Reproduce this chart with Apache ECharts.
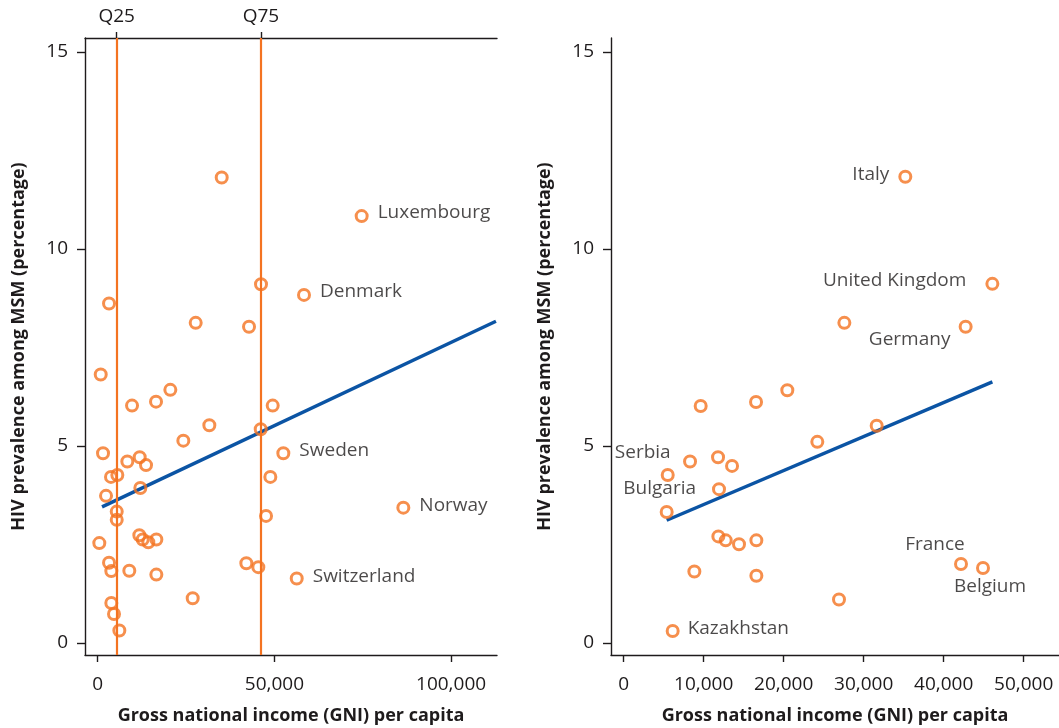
<!DOCTYPE html>
<html>
<head>
<meta charset="utf-8">
<script src="https://cdn.jsdelivr.net/npm/echarts@6/dist/echarts.min.js"></script>
<style>
html,body{margin:0;padding:0;background:#fff;}
#chart{width:1059px;height:728px;}
</style>
</head>
<body>
<div id="chart"></div>
<script>
// ---- Data ----
// Left panel: all countries
const leftGNI = [35090, 74700, 46210, 58380, 3200, 27730, 42820, 850, 20550, 16500, 9710, 49520, 31590, 46130, 24230, 52530, 1500, 8380, 11880, 13670, 3760, 5550, 48850, 12060, 2350, 86490, 5380, 5380, 47630, 11780, 12730, 14320, 16590, 450, 3200, 3850, 8940, 16590, 42060, 45450, 56320, 26880, 3850, 4610, 6120];
const leftHIV = [11.81, 10.83, 9.10, 8.83, 8.61, 8.12, 8.02, 6.81, 6.42, 6.12, 6.02, 6.02, 5.52, 5.42, 5.13, 4.81, 4.81, 4.60, 4.71, 4.51, 4.21, 4.26, 4.21, 3.93, 3.73, 3.43, 3.33, 3.12, 3.22, 2.73, 2.62, 2.55, 2.62, 2.53, 2.03, 1.82, 1.83, 1.73, 2.02, 1.92, 1.63, 1.13, 1.01, 0.73, 0.31];
const leftNames = ['', 'Luxembourg', '', 'Denmark', '', '', '', '', '', '', '', '', '', '', '', 'Sweden', '', '', '', '', '', '', '', '', '', 'Norway', '', '', '', '', '', '', '', '', '', '', '', '', '', '', 'Switzerland', '', '', '', ''];
const leftFitGNI = [1220, 112700];
const leftFitHIV = [3.45, 8.16];
const quartileValues = [5380, 46200];
const quartileLabels = ['Q25', 'Q75'];

// Right panel: interquartile countries
const rightGNI = [35200, 46080, 27580, 42740, 20450, 16540, 9620, 31620, 24200, 11790, 8290, 13540, 5500, 11910, 5370, 11830, 12750, 14410, 16580, 8830, 16580, 26910, 42160, 44910, 6120];
const rightHIV = [11.83, 9.11, 8.12, 8.02, 6.41, 6.11, 6.01, 5.51, 5.10, 4.71, 4.60, 4.49, 4.26, 3.90, 3.32, 2.70, 2.60, 2.50, 2.60, 1.81, 1.70, 1.10, 2.00, 1.90, 0.30];
const rightNames = ['Italy', 'United Kingdom', '', 'Germany', '', '', '', '', '', '', '', '', 'Serbia', '', 'Bulgaria', '', '', '', '', '', '', '', 'France', 'Belgium', 'Kazakhstan'];
const rightFitGNI = [5370, 46080];
const rightFitHIV = [3.11, 6.62];

const leftXTicks = [0, 50000, 100000];
const rightXTicks = [0, 10000, 20000, 30000, 40000, 50000];
const yTicks = [0, 5, 10, 15];
const xTitle = 'Gross national income (GNI) per capita';
const yTitle = 'HIV prevalence among MSM (percentage)';

// ---- Styles ----
const ORANGE = '#F47321';
const BLUE = '#0B54A4';
const INK = '#1E1B1C';
const FONT = '"Open Sans", "Noto Sans", sans-serif';

const labelPlacement = {
  'Luxembourg': {position: 'right', distance: 9, offset: [0, -3]},
  'Denmark': {position: 'right', distance: 9, offset: [0, -3]},
  'Sweden': {position: 'right', distance: 9, offset: [0, -3]},
  'Norway': {position: 'right', distance: 9, offset: [0, -2]},
  'Switzerland': {position: 'right', distance: 9, offset: [0, -2]},
  'Italy': {position: 'left', distance: 9, offset: [0, -2]},
  'United Kingdom': {position: 'left', distance: 19, offset: [0, -3]},
  'Germany': {position: 'inside', offset: [-56, 13]},
  'Serbia': {position: 'inside', offset: [-25, -22]},
  'Bulgaria': {position: 'inside', offset: [-7, -23]},
  'France': {position: 'inside', offset: [-26, -19]},
  'Belgium': {position: 'inside', offset: [7, 19]},
  'Kazakhstan': {position: 'right', distance: 8, offset: [0, -2]}
};

function buildPoints(xs, ys, names) {
  return xs.map((x, i) => {
    const item = {value: [x, ys[i]], name: names[i]};
    if (names[i]) {
      item.label = Object.assign({show: true, formatter: names[i], color: INK, fontSize: 19, fontFamily: FONT}, labelPlacement[names[i]]);
    }
    return item;
  });
}
function pairs(xs, ys) { return xs.map((x, i) => [x, ys[i]]); }

const axisLineStyle = {color: INK, width: 1.4};
const tickFont = {color: INK, fontSize: 19, fontFamily: FONT};
const titleFont = {color: INK, fontSize: 18, fontWeight: 'bold', fontFamily: FONT};

function xAxisBottom(gridIndex, min, max, ticks) {
  return {
    type: 'value', gridIndex, position: 'bottom', min, max,
    axisLine: {show: true, onZero: false, lineStyle: axisLineStyle},
    axisTick: {show: true, inside: false, length: 7, customValues: ticks, lineStyle: axisLineStyle},
    axisLabel: Object.assign({show: true, margin: 20, customValues: ticks, formatter: v => v.toLocaleString('en-US')}, tickFont),
    splitLine: {show: false},
    name: xTitle, nameLocation: 'middle', nameGap: 52, nameTextStyle: titleFont
  };
}
function yAxisLeft(gridIndex) {
  return {
    type: 'value', gridIndex, position: 'left', min: -0.31, max: 15.35,
    axisLine: {show: true, onZero: false, lineStyle: axisLineStyle},
    axisTick: {show: true, inside: false, length: 8, customValues: yTicks, lineStyle: axisLineStyle},
    axisLabel: Object.assign({show: true, margin: 17, customValues: yTicks}, tickFont),
    splitLine: {show: false},
    name: yTitle, nameLocation: 'middle', nameGap: 57, nameTextStyle: titleFont
  };
}

const scatterStyle = {
  type: 'scatter', symbol: 'circle', symbolSize: 11,
  itemStyle: {color: 'rgba(0,0,0,0)', borderColor: ORANGE, borderWidth: 3},
  z: 5
};

const option = {
  animation: false,
  backgroundColor: '#fff',
  grid: [
    {left: 85, top: 38, width: 412, height: 617, containLabel: false, outerBoundsMode: 'none'},
    {left: 611, top: 38, width: 448, height: 617, containLabel: false, outerBoundsMode: 'none'}
  ],
  xAxis: [
    xAxisBottom(0, -3600, 113000, leftXTicks),
    {
      type: 'value', gridIndex: 0, position: 'top', min: -3600, max: 113000,
      axisLine: {show: true, onZero: false, lineStyle: axisLineStyle},
      axisTick: {show: true, inside: false, length: 6, customValues: quartileValues, lineStyle: axisLineStyle},
      axisLabel: Object.assign({show: true, margin: 12, customValues: quartileValues,
        formatter: v => quartileLabels[quartileValues.indexOf(v)] || ''}, tickFont),
      splitLine: {show: false}
    },
    xAxisBottom(1, -1590, 54410, rightXTicks)
  ],
  yAxis: [yAxisLeft(0), yAxisLeft(1)],
  series: [
    {
      type: 'line', xAxisIndex: 0, yAxisIndex: 0, data: pairs(leftFitGNI, leftFitHIV),
      showSymbol: false, symbol: 'none', lineStyle: {color: BLUE, width: 3.5}, z: 3,
      markLine: {
        silent: true, symbol: ['none', 'none'], label: {show: false},
        lineStyle: {color: ORANGE, width: 2.2, type: 'solid'},
        data: quartileValues.map(v => ({xAxis: v}))
      }
    },
    Object.assign({}, scatterStyle, {xAxisIndex: 0, yAxisIndex: 0, data: buildPoints(leftGNI, leftHIV, leftNames)}),
    {
      type: 'line', xAxisIndex: 2, yAxisIndex: 1, data: pairs(rightFitGNI, rightFitHIV),
      showSymbol: false, symbol: 'none', lineStyle: {color: BLUE, width: 3.5}, z: 3
    },
    Object.assign({}, scatterStyle, {xAxisIndex: 2, yAxisIndex: 1, data: buildPoints(rightGNI, rightHIV, rightNames)})
  ]
};

const chart = echarts.init(document.getElementById('chart'), null, {renderer: 'canvas'});
chart.setOption(option);
</script>
</body>
</html>
